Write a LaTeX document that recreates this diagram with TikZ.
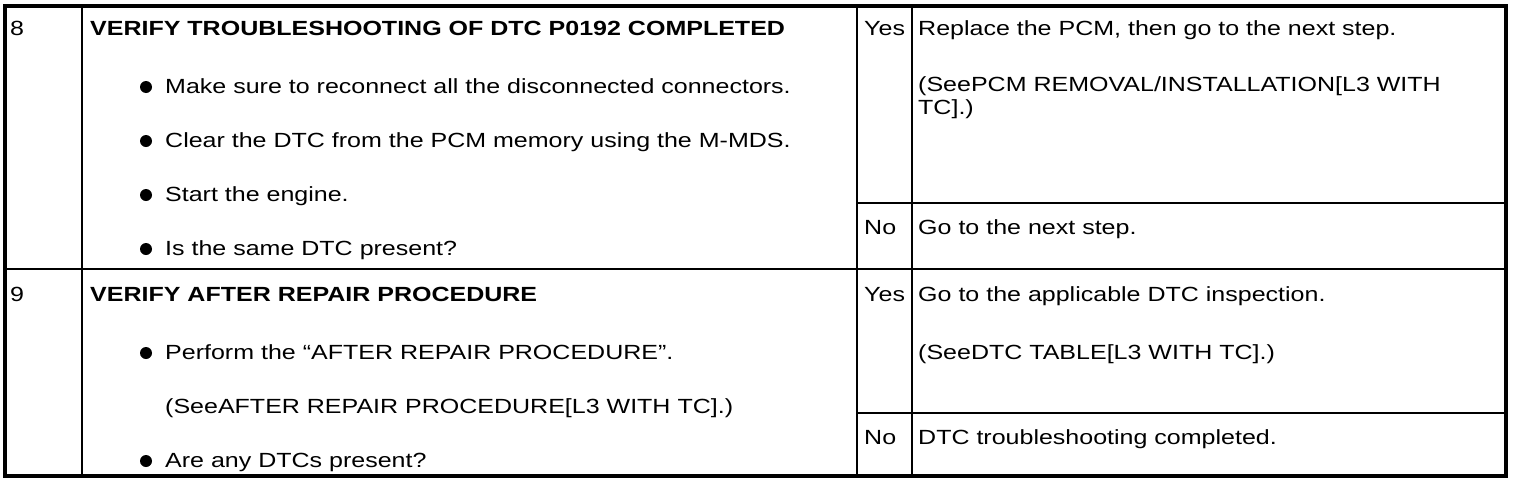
\documentclass[tikz,border=0pt]{standalone}
\usepackage{fontspec}
\setmainfont{Liberation Sans}[FakeStretch=1.22]
\begin{document}
\begin{tikzpicture}[x=1pt,y=-1pt,
  txt/.style={anchor=base west, inner sep=0pt, font=\fontsize{20.5}{23}\selectfont},
  btxt/.style={txt, font=\fontsize{20.5}{23}\selectfont\bfseries},
  dot/.style={circle, fill=black, inner sep=0pt, minimum size=12pt},
  rule/.style={line width=1.6pt},
  frame/.style={line width=4pt}]
\useasboundingbox (0,0) rectangle (1520,482);
% grid
\draw[rule] (82,6) -- (82,476);
\draw[rule] (857,6) -- (857,476);
\draw[rule] (912,6) -- (912,476);
\draw[rule] (4.7,269) -- (1506,269);
\draw[rule] (857,203) -- (1506,203);
\draw[rule] (857,413) -- (1506,413);
\draw[frame] (4.7,6) rectangle (1506,476);
% row 8
\node[txt] (n8) at (10,35) {8};
\node[btxt] (t8) at (90,35) {VERIFY TROUBLESHOOTING OF DTC P0192 COMPLETED};
\node[dot] (d81) at (146,87) {};
\node[txt] (b81) at (165,93) {Make sure to reconnect all the disconnected connectors.};
\node[dot] (d82) at (146,141) {};
\node[txt] (b82) at (165,147) {Clear the DTC from the PCM memory using the M-MDS.};
\node[dot] (d83) at (146,195) {};
\node[txt] (b83) at (165,201) {Start the engine.};
\node[dot] (d84) at (146,249) {};
\node[txt] (b84) at (165,255) {Is the same DTC present?};
\node[txt] (y8) at (864,35) {Yes};
\node[txt] (a8y1) at (918,35) {Replace the PCM, then go to the next step.};
\node[txt] (a8y2) at (918,91) {(SeePCM REMOVAL/INSTALLATION[L3 WITH};
\node[txt] (a8y3) at (918,114) {TC].)};
\node[txt] (no8) at (864,234) {No};
\node[txt] (a8n) at (918,234) {Go to the next step.};
% row 9
\node[txt] (n9) at (10,301) {9};
\node[btxt] (t9) at (90,301) {VERIFY AFTER REPAIR PROCEDURE};
\node[dot] (d91) at (146,353) {};
\node[txt] (b91) at (165,359) {Perform the “AFTER REPAIR PROCEDURE”.};
\node[txt] (b92) at (165,413) {(SeeAFTER REPAIR PROCEDURE[L3 WITH TC].)};
\node[dot] (d93) at (146,461) {};
\node[txt] (b93) at (165,467) {Are any DTCs present?};
\node[txt] (y9) at (864,301) {Yes};
\node[txt] (a9y1) at (918,301) {Go to the applicable DTC inspection.};
\node[txt] (a9y2) at (918,359) {(SeeDTC TABLE[L3 WITH TC].)};
\node[txt] (no9) at (864,444) {No};
\node[txt] (a9n) at (918,444) {DTC troubleshooting completed.};
\end{tikzpicture}
\end{document}
